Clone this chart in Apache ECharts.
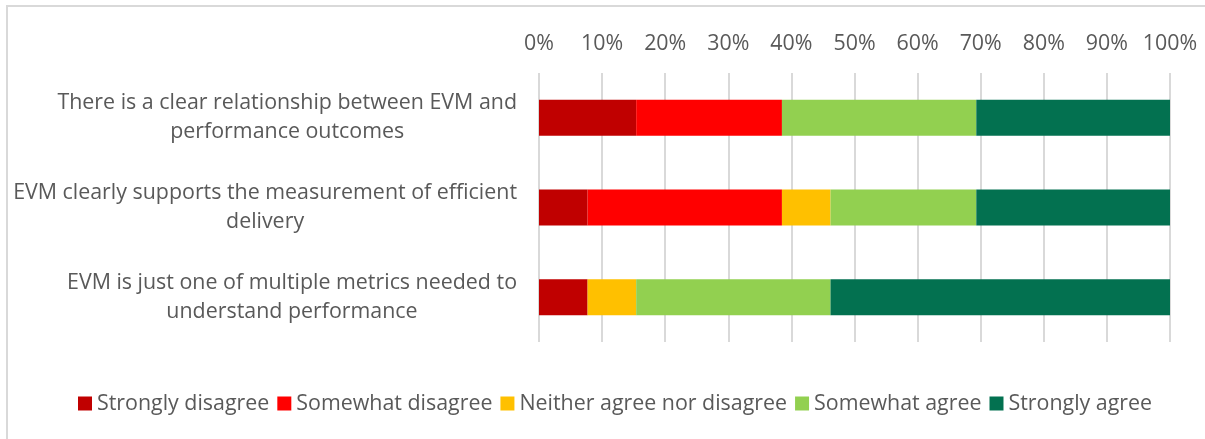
<!DOCTYPE html>
<html>
<head>
<meta charset="utf-8">
<style>
html,body{margin:0;padding:0;background:#fff;}
#chart{width:1205px;height:439px;}
</style>
<script src="https://cdn.jsdelivr.net/npm/echarts@6/dist/echarts.min.js"></script>
</head>
<body>
<div id="chart"></div>
<script>
const categories = [
  "There is a clear relationship between EVM and\nperformance outcomes",
  "EVM clearly supports the measurement of efficient\ndelivery",
  "EVM is just one of multiple metrics needed to\nunderstand performance"
];
const seriesNames = ["Strongly disagree","Somewhat disagree","Neither agree nor disagree","Somewhat agree","Strongly agree"];
const stronglyDisagree = [15.4, 7.7, 7.7];
const somewhatDisagree = [23.1, 30.8, 0];
const neither = [0, 7.7, 7.7];
const somewhatAgree = [30.8, 23.1, 30.8];
const stronglyAgree = [30.7, 30.7, 53.8];
const xTicks = [0,10,20,30,40,50,60,70,80,90,100];

const colors = ["#C00000","#FF0000","#FFC000","#92D050","#037150"];
const values = [stronglyDisagree, somewhatDisagree, neither, somewhatAgree, stronglyAgree];
const FONT = "Open Sans";
const TXT = "#595959";
const FS = 21.4;

const chart = echarts.init(document.getElementById('chart'), null, {renderer:'canvas'});
const option = {
  backgroundColor: '#fff',
  animation: false,
  textStyle: {fontFamily: FONT},
  graphic: [{
    type: 'rect', silent: true, z: -10,
    shape: {x: 7, y: 6, width: 1400, height: 600},
    style: {fill: 'none', stroke: '#d9d9d9', lineWidth: 2}
  }],
  grid: {left: 539, right: 35, top: 73, bottom: 97, containLabel: false},
  xAxis: {
    type: 'value', position: 'top', min: 0, max: 100, interval: 10,
    axisLine: {show: false}, axisTick: {show: false},
    splitLine: {show: true, lineStyle: {color: '#d9d9d9', width: 2}},
    axisLabel: {
      color: TXT, fontSize: FS, fontFamily: FONT, margin: 19,
      formatter: v => xTicks.indexOf(v) >= 0 ? v + '%' : ''
    }
  },
  yAxis: {
    type: 'category', inverse: true, data: categories,
    axisLine: {show: false}, axisTick: {show: false},
    axisLabel: {
      color: TXT, fontSize: FS, fontFamily: FONT, margin: 22, align: 'right', lineHeight: 29,
      formatter: v => v.split('\n').map(l => '{c|' + l + '}').join('\n'),
      rich: {c: {align: 'center', color: TXT, fontSize: FS, fontFamily: FONT, lineHeight: 29}}
    }
  },
  legend: {
    bottom: 20, left: 73,
    icon: 'rect', itemWidth: 14, itemHeight: 14, itemGap: 8,
    textStyle: {color: TXT, fontSize: FS, fontFamily: FONT},
    data: seriesNames
  },
  series: seriesNames.map((n, i) => ({
    name: n, type: 'bar', stack: 'total', barWidth: 36,
    itemStyle: {color: colors[i]},
    data: values[i]
  }))
};
chart.setOption(option);
</script>
</body>
</html>
